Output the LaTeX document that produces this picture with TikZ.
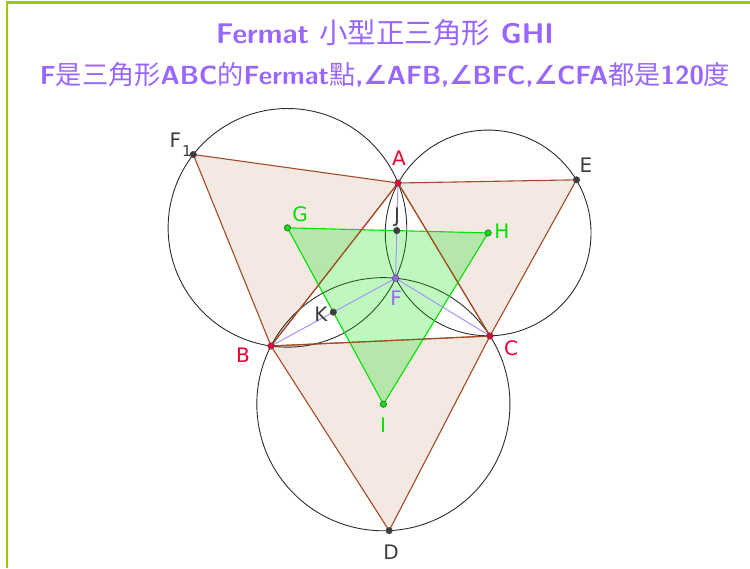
\documentclass[tikz,border=0pt]{standalone}
\usepackage{fontspec}
\newfontfamily\cjk{Noto Sans CJK TC}
\newfontfamily\lab{DejaVu Sans}
\usetikzlibrary{calc,through}
\definecolor{ttl}{RGB}{153,102,255}
\definecolor{frame}{RGB}{153,204,0}
\definecolor{brn}{RGB}{165,75,35}
\definecolor{pinkf}{RGB}{244,232,227}
\definecolor{grn}{RGB}{0,225,0}
\definecolor{redp}{RGB}{240,0,50}
\definecolor{darkp}{RGB}{60,60,60}
\definecolor{circc}{RGB}{45,45,45}
\definecolor{purl}{RGB}{170,145,255}
\tikzset{
  border/.style={draw=frame,line width=2.2pt},
  outer/.style={fill=pinkf,draw=brn,line width=1.1pt,line join=round},
  inner/.style={draw=grn,line width=1.1pt,fill=green!90!black,fill opacity=0.25,line join=round},
  fcirc/.style={draw=circc,line width=0.9pt,circle through=#1},
  flink/.style={draw=purl,line width=1pt},
  dot/.style={circle,inner sep=0pt,minimum size=6.5pt,draw=black!70,line width=0.5pt,fill=#1},
  lbl/.style={font=\lab\fontsize{20}{20}\selectfont,text=#1,inner sep=0pt},
  ttlnode/.style={font=\sffamily\bfseries,text=ttl,inner sep=0pt},
}
\newcommand\ang{{\lab\bfseries ∠}}
\begin{document}
\begin{tikzpicture}[x=1pt,y=-1pt]
\useasboundingbox (0,0) rectangle (750,568);
\draw[border] (7,568) -- (7,2.5) -- (750,2.5);

\coordinate (A) at (398,183);
\coordinate (B) at (271,346);
\coordinate (C) at (490,336);
\coordinate (F1) at ($(A)!1!-60:(B)$);
\coordinate (E) at ($(A)!1!60:(C)$);
\coordinate (D) at ($(B)!1!-60:(C)$);
\coordinate (G) at (barycentric cs:A=1,B=1,F1=1);
\coordinate (H) at (barycentric cs:A=1,C=1,E=1);
\coordinate (I) at (barycentric cs:B=1,C=1,D=1);
\coordinate (F) at (intersection of F1--C and E--B);
\coordinate (J) at ($(A)!0.5!(F)$);
\coordinate (K) at ($(B)!0.5!(F)$);

% outer equilateral triangles
\path[outer] (A) -- (F1) -- (B) -- cycle;
\path[outer] (A) -- (E) -- (C) -- cycle;
\path[outer] (B) -- (D) -- (C) -- cycle;

% circumcircles
\node[fcirc=(A)] (cG) at (G) {};
\node[fcirc=(A)] (cH) at (H) {};
\node[fcirc=(B)] (cI) at (I) {};

% small triangle
\path[inner] (G) -- (H) -- (I) -- cycle;

% Fermat segments
\draw[flink] (F) -- (A);
\draw[flink] (F) -- (B);
\draw[flink] (F) -- (C);
\draw[brn,line width=1.1pt] (A) -- (B) -- (C) -- cycle;

% points
\node[dot=redp] (pA) at (A) {};
\node[dot=redp] (pB) at (B) {};
\node[dot=redp] (pC) at (C) {};
\node[dot=ttl] (pF) at (F) {};
\node[dot=grn] (pG) at (G) {};
\node[dot=grn] (pH) at (H) {};
\node[dot=grn] (pI) at (I) {};
\node[dot=darkp] (pD) at (D) {};
\node[dot=darkp] (pE) at (E) {};
\node[dot=darkp] (pF1) at (F1) {};
\node[dot=darkp] (pJ) at (J) {};
\node[dot=darkp] (pK) at (K) {};

% labels
\node[lbl=redp] (lA) at (399,158) {A};
\node[lbl=redp] (lB) at (243,355) {B};
\node[lbl=redp] (lC) at (511,348) {C};
\node[lbl=ttl] (lF) at (396,298) {F};
\node[lbl=grn] (lG) at (300,214) {G};
\node[lbl=grn] (lH) at (502,231) {H};
\node[lbl=grn] (lI) at (383,425) {I};
\node[lbl=darkp] (lD) at (391,552) {D};
\node[lbl=darkp] (lE) at (586,165) {E};
\node[lbl=darkp] (lJ) at (397,217) {J};
\node[lbl=darkp] (lK) at (321,314) {K};
\node[lbl=darkp] (lF1) at (175.5,140) {F};
\node[lbl=darkp,font=\lab\fontsize{15}{15}\selectfont] (lF1s) at (187,151) {1};

% titles
\node[ttlnode,font=\fontsize{28.5}{30}\selectfont\sffamily\bfseries] (t1) at (385,33) {Fermat {\cjk\mdseries 小型正三角形} GHI};
\node[ttlnode,font=\fontsize{26.2}{30}\selectfont\sffamily\bfseries] (t2) at (385,75) {F{\cjk\mdseries 是三角形}ABC{\cjk\mdseries 的}Fermat{\cjk\mdseries 點},\ang AFB,\ang BFC,\ang CFA{\cjk\mdseries 都是}120{\cjk\mdseries 度}};
\end{tikzpicture}
\end{document}
